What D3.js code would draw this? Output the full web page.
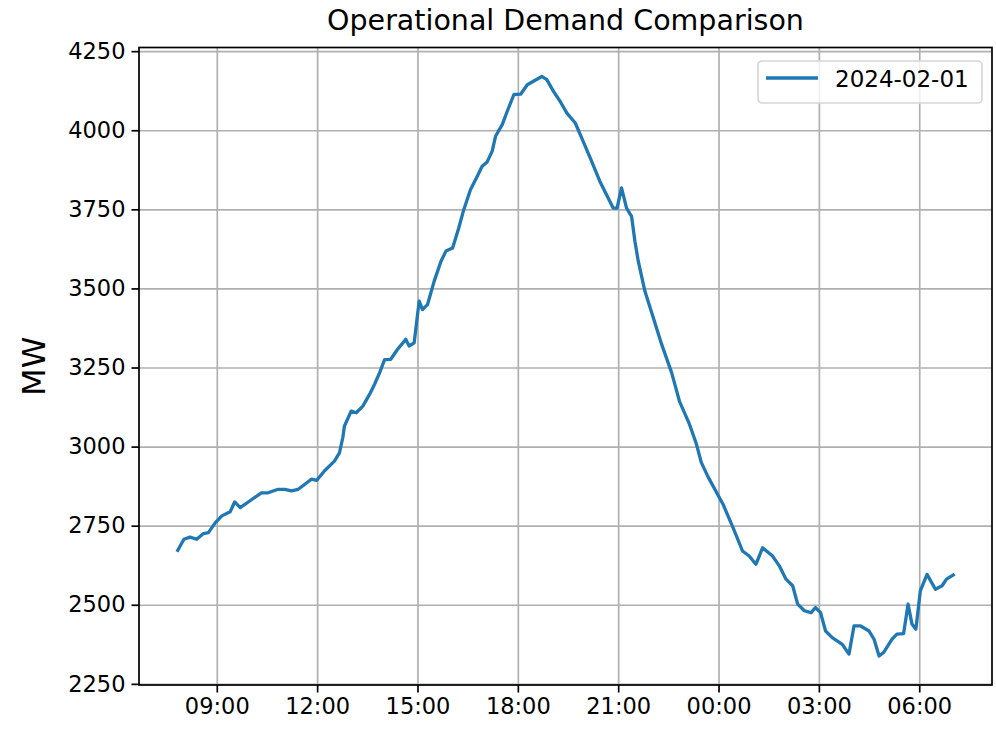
<!DOCTYPE html>
<html>
<head>
<meta charset="utf-8">
<script src="https://cdn.jsdelivr.net/npm/d3@7"></script>
<style>
    body { margin: 0; background: #fff; }
    svg text { font-family: 'DejaVu Sans', sans-serif; fill: #000; }
</style>
</head>
<body>
<div id="chart"></div>
<script>
'use strict';

// series (roughly every 10-15 minutes)
let times = [
    '2024-02-01 07:50', '2024-02-01 08:01', '2024-02-01 08:12', '2024-02-01 08:24', '2024-02-01 08:36',
    '2024-02-01 08:45', '2024-02-01 08:57', '2024-02-01 09:09', '2024-02-01 09:24', '2024-02-01 09:32',
    '2024-02-01 09:42', '2024-02-01 09:59', '2024-02-01 10:20', '2024-02-01 10:32', '2024-02-01 10:50',
    '2024-02-01 11:02', '2024-02-01 11:14', '2024-02-01 11:26', '2024-02-01 11:38', '2024-02-01 11:50',
    '2024-02-01 11:59', '2024-02-01 12:13', '2024-02-01 12:31', '2024-02-01 12:40', '2024-02-01 12:46',
    '2024-02-01 12:49', '2024-02-01 13:01', '2024-02-01 13:10', '2024-02-01 13:22', '2024-02-01 13:34',
    '2024-02-01 13:43', '2024-02-01 13:52', '2024-02-01 14:01', '2024-02-01 14:12', '2024-02-01 14:24',
    '2024-02-01 14:39', '2024-02-01 14:45', '2024-02-01 14:54', '2024-02-01 15:03', '2024-02-01 15:09',
    '2024-02-01 15:18', '2024-02-01 15:30', '2024-02-01 15:42', '2024-02-01 15:51', '2024-02-01 16:03',
    '2024-02-01 16:14', '2024-02-01 16:23', '2024-02-01 16:35', '2024-02-01 16:47', '2024-02-01 16:56',
    '2024-02-01 17:05', '2024-02-01 17:14', '2024-02-01 17:20', '2024-02-01 17:32', '2024-02-01 17:41',
    '2024-02-01 17:53', '2024-02-01 18:05', '2024-02-01 18:17', '2024-02-01 18:28', '2024-02-01 18:43',
    '2024-02-01 18:52', '2024-02-01 19:04', '2024-02-01 19:16', '2024-02-01 19:28', '2024-02-01 19:43',
    '2024-02-01 19:52', '2024-02-01 20:10', '2024-02-01 20:27', '2024-02-01 20:51', '2024-02-01 20:58',
    '2024-02-01 21:06', '2024-02-01 21:15', '2024-02-01 21:24', '2024-02-01 21:30', '2024-02-01 21:36',
    '2024-02-01 21:48', '2024-02-01 22:03', '2024-02-01 22:18', '2024-02-01 22:36', '2024-02-01 22:50',
    '2024-02-01 23:08', '2024-02-01 23:20', '2024-02-01 23:29', '2024-02-01 23:41', '2024-02-02 00:08',
    '2024-02-02 00:26', '2024-02-02 00:43', '2024-02-02 00:55', '2024-02-02 01:07', '2024-02-02 01:19',
    '2024-02-02 01:37', '2024-02-02 01:49', '2024-02-02 02:01', '2024-02-02 02:13', '2024-02-02 02:22',
    '2024-02-02 02:34', '2024-02-02 02:46', '2024-02-02 02:54', '2024-02-02 03:03', '2024-02-02 03:12',
    '2024-02-02 03:24', '2024-02-02 03:42', '2024-02-02 03:54', '2024-02-02 04:03', '2024-02-02 04:15',
    '2024-02-02 04:30', '2024-02-02 04:39', '2024-02-02 04:48', '2024-02-02 04:56', '2024-02-02 05:11',
    '2024-02-02 05:20', '2024-02-02 05:32', '2024-02-02 05:40', '2024-02-02 05:47', '2024-02-02 05:54',
    '2024-02-02 06:02', '2024-02-02 06:14', '2024-02-02 06:29', '2024-02-02 06:41', '2024-02-02 06:49',
    '2024-02-02 07:01'
];
let demand = [
    2672, 2707, 2714, 2707, 2725,
    2728, 2759, 2781, 2794, 2825,
    2807, 2828, 2854, 2854, 2865,
    2865, 2860, 2865, 2881, 2897,
    2893, 2923, 2954, 2980, 3028,
    3065, 3112, 3107, 3128, 3165,
    3197, 3233, 3275, 3276, 3307,
    3339, 3318, 3328, 3460, 3433,
    3449, 3523, 3585, 3618, 3628,
    3691, 3749, 3812, 3854, 3886,
    3900, 3934, 3981, 4018, 4060,
    4113, 4114, 4144, 4155, 4170,
    4160, 4123, 4091, 4054, 4023,
    3986, 3912, 3839, 3754, 3754,
    3818, 3754, 3728, 3649, 3586,
    3491, 3407, 3323, 3233, 3143,
    3070, 3010, 2950, 2905, 2818,
    2744, 2670, 2654, 2628, 2680,
    2654, 2623, 2581, 2560, 2502,
    2481, 2475, 2491, 2475, 2417,
    2396, 2375, 2344, 2433, 2433,
    2417, 2391, 2338, 2349, 2391,
    2407, 2409, 2502, 2439, 2423,
    2544, 2596, 2549, 2560, 2581,
    2594
];
let yTicks = [2250, 2500, 2750, 3000, 3250, 3500, 3750, 4000, 4250];
let seriesLabel = '2024-02-01';
let chartTitle = 'Operational Demand Comparison';
let yLabel = 'MW';

let W = 996, H = 729;
let margin = {top: 47.5, right: 4, bottom: 44, left: 139};
let width = W - margin.left - margin.right;
let height = H - margin.top - margin.bottom;

let parse = d3.timeParse('%Y-%m-%d %H:%M');
let data = times.map(function(t, i) {
    return {date: parse(t), value: demand[i]};
});

// matplotlib-like 5% padding around the data extent
function pad(ext) {
    let p = (ext[1] - ext[0]) * 0.05;
    return [ext[0] - p, ext[1] + p];
}
let xExt = pad(d3.extent(data, d => +d.date));
let yExt = pad(d3.extent(data, d => d.value));

let x = d3.scaleTime().domain([new Date(xExt[0]), new Date(xExt[1])]).range([0, width]);
let y = d3.scaleLinear().domain(yExt).range([height, 0]);

let svg = d3.select('#chart').append('svg')
    .attr('width', W)
    .attr('height', H);

let g = svg.append('g')
    .attr('transform', 'translate(' + margin.left + ',' + margin.top + ')');

let xTickVals = x.ticks(d3.timeHour.every(3));

// grid
g.append('g')
    .attr('class', 'grid')
    .attr('transform', 'translate(0,' + height + ')')
    .call(d3.axisBottom(x).tickValues(xTickVals).tickSize(-height).tickFormat(''))
    .call(s => s.select('.domain').remove())
    .selectAll('line').attr('stroke', '#b0b0b0').attr('stroke-width', 1.7);

g.append('g')
    .attr('class', 'grid')
    .call(d3.axisLeft(y).tickValues(yTicks).tickSize(-width).tickFormat(''))
    .call(s => s.select('.domain').remove())
    .selectAll('line').attr('stroke', '#b0b0b0').attr('stroke-width', 1.7);

// the line
let line = d3.line()
    .x(d => x(d.date))
    .y(d => y(d.value));

g.append('path')
    .datum(data)
    .attr('fill', 'none')
    .attr('stroke', '#1f77b4')
    .attr('stroke-width', 3.3)
    .attr('stroke-linejoin', 'round')
    .attr('stroke-linecap', 'square')
    .attr('d', line);

// axes
let xAxis = d3.axisBottom(x)
    .tickValues(xTickVals)
    .tickFormat(d3.timeFormat('%H:%M'))
    .tickSize(7.5)
    .tickPadding(6);
let yAxis = d3.axisLeft(y)
    .tickValues(yTicks)
    .tickFormat(d3.format('d'))
    .tickSize(7.5)
    .tickPadding(6);

let gx = g.append('g')
    .attr('transform', 'translate(0,' + height + ')')
    .call(xAxis);
let gy = g.append('g').call(yAxis);

[gx, gy].forEach(function(a) {
    a.select('.domain').remove();
    a.selectAll('line').attr('stroke', '#000').attr('stroke-width', 1.7);
    a.selectAll('text')
        .style('font-size', '22.5px')
        .attr('fill', '#000');
});

// spines
g.append('rect')
    .attr('x', 0).attr('y', 0)
    .attr('width', width).attr('height', height)
    .attr('fill', 'none')
    .attr('stroke', '#000')
    .attr('stroke-width', 1.7);

// title
svg.append('text')
    .attr('x', margin.left + width / 2)
    .attr('y', 30)
    .attr('text-anchor', 'middle')
    .style('font-size', '28.5px')
    .text(chartTitle);

// y label
svg.append('text')
    .attr('transform', 'translate(45,' + (margin.top + height / 2) + ') rotate(-90)')
    .attr('text-anchor', 'middle')
    .style('font-size', '32px')
    .text(yLabel);

// legend
let legend = g.append('g')
    .attr('transform', 'translate(' + (width - 234) + ',13.5)');
legend.append('rect')
    .attr('width', 224).attr('height', 42)
    .attr('rx', 4)
    .attr('fill', '#fff').attr('fill-opacity', 0.8)
    .attr('stroke', '#d6d6d6').attr('stroke-width', 1.7);
legend.append('line')
    .attr('x1', 8).attr('x2', 60)
    .attr('y1', 17).attr('y2', 17)
    .attr('stroke', '#1f77b4').attr('stroke-width', 3.3);
legend.append('text')
    .attr('x', 77).attr('y', 25.5)
    .style('font-size', '23px')
    .text(seriesLabel);
</script>
</body>
</html>
